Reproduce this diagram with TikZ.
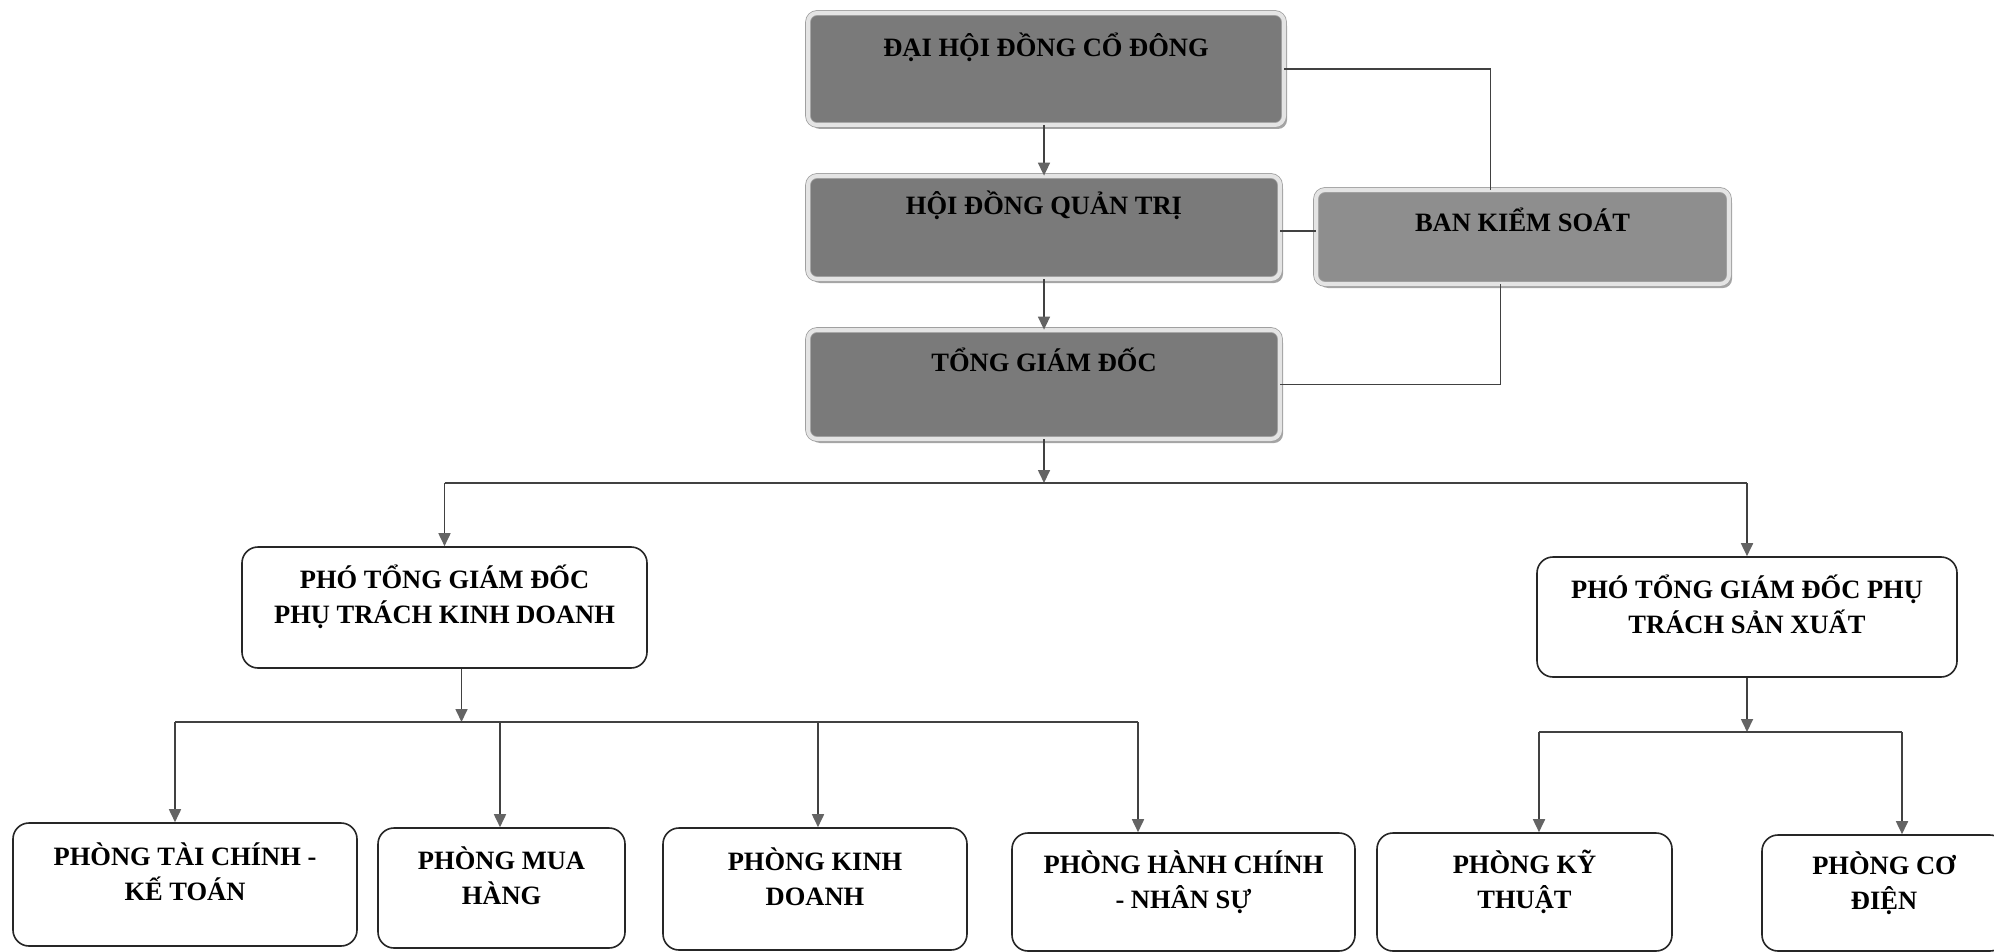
\documentclass[tikz,border=0pt]{standalone}
\usepackage{fontspec}
\setmainfont{Liberation Serif}
\usetikzlibrary{arrows.meta,calc,shadows}
\definecolor{boxgray}{RGB}{122,122,122}
\definecolor{bksgray}{RGB}{142,142,142}
\definecolor{rimgray}{RGB}{228,228,228}
\definecolor{edgegray}{RGB}{160,160,160}
\definecolor{linegray}{RGB}{65,65,65}
\definecolor{arrowgray}{RGB}{100,100,100}
\newcommand{\bxt}[2]{\raisebox{#1pt}[0pt][0pt]{\begin{tabular}{@{}c@{}}#2\end{tabular}}}
\begin{document}
\begin{tikzpicture}[x=1pt,y=-1pt,
  every node/.style={font=\fontsize{26.5}{35}\selectfont\bfseries, inner sep=0pt},
  darkbox/.style={rounded corners=9pt, fill=boxgray, draw=edgegray, line width=0.8pt,
     double=rimgray, double distance=4pt,
     drop shadow={shadow xshift=3pt, shadow yshift=-4pt, fill=black!50, opacity=0.7}},
  wbox/.style={draw=black!85, line width=1.6pt, rounded corners=16pt, fill=white},
  ln/.style={draw=linegray, line width=1.7pt},
  arr/.style={draw=linegray, line width=1.7pt, -{Triangle[width=12pt,length=13pt,color=arrowgray]}}
]
\fill[white] (0,0) rectangle (1994,952);
\useasboundingbox (0,0) rectangle (1994,952);

% top dark boxes
\node[darkbox, minimum width=476pt, minimum height=112pt] (dhd) at (1046,69) {\bxt{13}{ĐẠI HỘI ĐỒNG CỔ ĐÔNG}};
\node[darkbox, minimum width=472pt, minimum height=103pt] (hdqt) at (1044,227.5) {\bxt{14}{HỘI ĐỒNG QUẢN TRỊ}};
\node[darkbox, minimum width=472pt, minimum height=109pt] (tgd) at (1044,384.5) {\bxt{14}{TỔNG GIÁM ĐỐC}};
\node[darkbox, fill=bksgray, minimum width=413pt, minimum height=94pt] (bks) at (1522.5,237) {\bxt{6}{BAN KIỂM SOÁT}};

% deputy boxes
\node[wbox, minimum width=405pt, minimum height=121pt] (kd) at (444.5,607.5) {\bxt{2}{PHÓ TỔNG GIÁM ĐỐC\\PHỤ TRÁCH KINH DOANH}};
\node[wbox, minimum width=420pt, minimum height=120pt] (sx) at (1747,617) {\bxt{2}{PHÓ TỔNG GIÁM ĐỐC PHỤ\\TRÁCH SẢN XUẤT}};

% departments
\node[wbox, minimum width=344pt, minimum height=123pt] (b1) at (185,884.5) {\bxt{2}{PHÒNG TÀI CHÍNH -\\KẾ TOÁN}};
\node[wbox, minimum width=247pt, minimum height=120pt] (b2) at (501.5,888) {\bxt{2}{PHÒNG MUA\\HÀNG}};
\node[wbox, minimum width=304pt, minimum height=122pt] (b3) at (815,889) {\bxt{2}{PHÒNG KINH\\DOANH}};
\node[wbox, minimum width=343pt, minimum height=118pt] (b4) at (1183.5,892) {\bxt{2}{PHÒNG HÀNH CHÍNH\\- NHÂN SỰ}};
\node[wbox, minimum width=295pt, minimum height=118pt] (b5) at (1524.5,892) {\bxt{2}{PHÒNG KỸ\\THUẬT}};
\node[wbox, minimum width=244pt, minimum height=116pt] (b6) at (1884,893) {\bxt{2}{PHÒNG CƠ\\ĐIỆN}};

% top connectors
\draw[arr] (hdqt.north |- dhd.south) -- (hdqt.north);
\draw[arr] (tgd.north |- hdqt.south) -- (tgd.north);
\coordinate (bt) at ($(bks.north)+(-32,0)$);
\draw[ln] (dhd.east) -| (bt);
\coordinate (hb) at ($(bks.west)+(0,-6)$);
\draw[ln] (hb) -- (hb -| hdqt.east);
\coordinate (bs) at ($(bks.south)+(-22,0)$);
\draw[ln] (bs) |- (tgd.east);

% to deputies
\coordinate (bus1) at (1044,483);
\draw[arr] (tgd.south) -- (tgd.south |- bus1);
\draw[ln] (bus1 -| kd.north) -- (bus1 -| sx.north);
\draw[arr] (bus1 -| kd.north) -- (kd.north);
\draw[arr] (bus1 -| sx.north) -- (sx.north);

% business branch
\coordinate (kdo) at ($(kd.south)+(17,0)$);
\coordinate (bus2) at (462,722);
\draw[arr] (kdo) -- (kdo |- bus2);
\coordinate (t1) at (175,722);
\coordinate (t2) at (500,722);
\coordinate (t3) at (818,722);
\coordinate (t4) at (1138,722);
\draw[ln] (t1) -- (t4);
\draw[arr] (t1) -- (t1 |- b1.north);
\draw[arr] (t2) -- (t2 |- b2.north);
\draw[arr] (t3) -- (t3 |- b3.north);
\draw[arr] (t4) -- (t4 |- b4.north);

% production branch
\coordinate (bus3) at (1747,732);
\draw[arr] (sx.south) -- (sx.south |- bus3);
\coordinate (t5) at (1539,732);
\coordinate (t6) at (1902,732);
\draw[ln] (t5) -- (t6);
\draw[arr] (t5) -- (t5 |- b5.north);
\draw[arr] (t6) -- (t6 |- b6.north);
\end{tikzpicture}
\end{document}
